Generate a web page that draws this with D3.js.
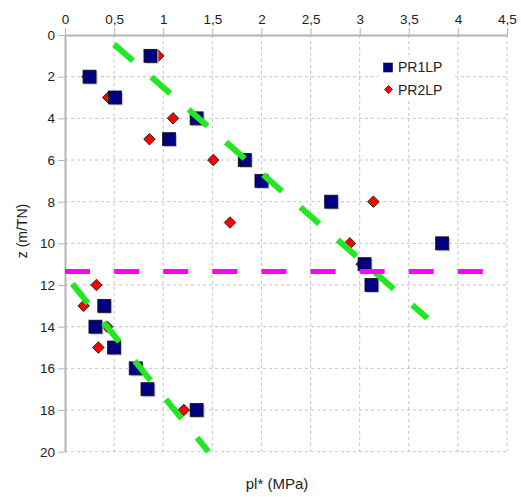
<!DOCTYPE html>
<html><head><meta charset="utf-8">
<script src="https://cdn.jsdelivr.net/npm/d3@7"></script>
<style>body{margin:0;background:#fff}svg{display:block;font-family:"Liberation Sans",Arial,sans-serif}</style>
</head><body><svg id="c" width="521" height="497"></svg>
<script>
const depthPR1 = [1,2,3,4,5,6,7,8,10,11,12,13,14,15,16,17,18];
const valuesPR1 = [0.87,0.25,0.51,1.34,1.06,1.83,2.0,2.71,3.84,3.05,3.12,0.4,0.31,0.5,0.72,0.84,1.34];
const depthPR2 = [1,2,3,4,5,6,7,8,9,10,11,12,13,14,15,18];
const valuesPR2 = [0.95,0.23,0.44,1.1,0.86,1.51,2.05,3.14,1.68,2.9,3.02,0.32,0.19,0.43,0.34,1.21];
const trendUpperPl = [0.5, 3.69];
const trendUpperZ = [0.45, 13.6];
const trendLowerPl = [0.075, 1.46];
const trendLowerZ = [11.95, 20];
const limitZ = 11.35;
const limitPl = [0, 4.5];
const xTicks = [0,0.5,1,1.5,2,2.5,3,3.5,4,4.5];
const yTicks = [0,2,4,6,8,10,12,14,16,18,20];
const seriesNames = ["PR1LP","PR2LP"];

const svg = d3.select("#c");
const x = d3.scaleLinear().domain([0,4.5]).range([65,507]);
const y = d3.scaleLinear().domain([0,20]).range([35,451.7]);
const loc = d3.formatLocale({decimal:",",thousands:" ",grouping:[3],currency:["",""]});
const fmt = loc.format("~g");

// grid
const grid = svg.append("g").attr("stroke","#c4c4c4").attr("stroke-dasharray","3,3").attr("stroke-width",1);
xTicks.filter(d=>d>0).forEach(d=>grid.append("line").attr("x1",x(d)).attr("x2",x(d)).attr("y1",y(0)).attr("y2",y(20)));
yTicks.filter(d=>d>0).forEach(d=>grid.append("line").attr("x1",x(0)).attr("x2",x(4.5)).attr("y1",y(d)).attr("y2",y(d)));

// axes
const ax = svg.append("g").attr("transform",`translate(0,${y(0)})`)
  .call(d3.axisTop(x).tickValues(xTicks).tickFormat(fmt).tickSize(7).tickSizeOuter(0));
const ay = svg.append("g").attr("transform",`translate(${x(0)},0)`)
  .call(d3.axisLeft(y).tickValues(yTicks).tickSize(7).tickSizeOuter(0));
[ax,ay].forEach(g=>{
  g.select(".domain").attr("stroke","#b4b4b4").attr("stroke-width",2);
  g.selectAll(".tick line").attr("stroke","#b4b4b4");
  g.selectAll(".tick text").attr("fill","#222").style("font-size","13.5px").style("font-family","Liberation Sans, Arial, sans-serif");
});
ax.selectAll(".tick text").attr("dy","-0.1em");

// diamonds (PR2LP)
const diamond = d3.symbol().type(d3.symbolDiamond2).size(84);
svg.append("g").selectAll("path").data(depthPR2).join("path")
  .attr("d", diamond)
  .attr("transform",(d,i)=>`translate(${x(valuesPR2[i])},${y(d)})`)
  .attr("fill","#ff0000").attr("stroke","#222").attr("stroke-width",1);

// squares (PR1LP)
const sq = 13;
const gS = svg.append("g");
gS.selectAll("rect.sh").data(depthPR1).join("rect").attr("class","sh")
  .attr("x",(d,i)=>x(valuesPR1[i])-sq/2+1.5).attr("y",d=>y(d)-sq/2+1.5)
  .attr("width",sq).attr("height",sq).attr("fill","#c8c8c8");
gS.selectAll("rect.m").data(depthPR1).join("rect").attr("class","m")
  .attr("x",(d,i)=>x(valuesPR1[i])-sq/2).attr("y",d=>y(d)-sq/2)
  .attr("width",sq).attr("height",sq).attr("fill","#000080").attr("stroke","#111").attr("stroke-width",0.8);

// lines
const line = d3.line().x(d=>x(d[0])).y(d=>y(d[1]));
svg.append("path").datum(trendUpperPl.map((p,i)=>[p,trendUpperZ[i]]))
  .attr("d",line).attr("stroke","#22e822").attr("stroke-width",6).attr("fill","none").attr("stroke-dasharray","25,24.5");
svg.append("path").datum(trendLowerPl.map((p,i)=>[p,trendLowerZ[i]]))
  .attr("d",line).attr("stroke","#22e822").attr("stroke-width",6).attr("fill","none").attr("stroke-dasharray","25,24.5");
svg.append("path").datum(limitPl.map(p=>[p,limitZ]))
  .attr("d",line).attr("stroke","#ff00ff").attr("stroke-width",5).attr("fill","none").attr("stroke-dasharray","25,24.1");

// legend
const lg = svg.append("g");
lg.append("rect").attr("x",378).attr("y",55).attr("width",74).attr("height",45).attr("fill","#fff");
lg.append("rect").attr("x",383.5).attr("y",63).attr("width",9).attr("height",9).attr("fill","#000080").attr("stroke","#111").attr("stroke-width",0.6);
lg.append("path").attr("d",d3.symbol().type(d3.symbolDiamond2).size(40)).attr("transform","translate(388.5,89.5)")
  .attr("fill","#ff0000").attr("stroke","#222").attr("stroke-width",0.8);
lg.selectAll("text").data(seriesNames).join("text")
  .attr("x",398).attr("y",(d,i)=>i?94.5:72).text(d=>d)
  .attr("fill","#222").style("font-size","14px");

// axis titles
svg.append("text").attr("transform","translate(27,231) rotate(-90)").attr("text-anchor","middle")
  .style("font-size","14px").attr("fill","#222").text("z (m/TN)");
svg.append("text").attr("x",277).attr("y",489).attr("text-anchor","middle")
  .style("font-size","15px").attr("fill","#222").text("pl* (MPa)");
</script></body></html>
